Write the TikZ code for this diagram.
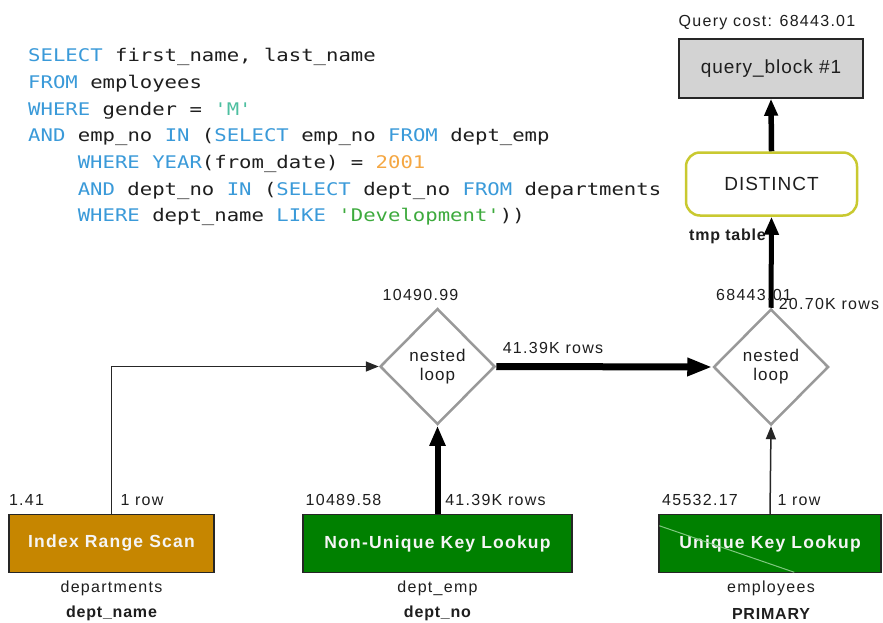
\documentclass[tikz,border=0pt]{standalone}
\usepackage{fontspec}
\setmainfont{Liberation Sans}
\newfontfamily\sqlfont[FakeStretch=1.185]{DejaVu Sans Mono}
\newfontfamily\lblfont[LetterSpace=8]{Liberation Sans}
\newfontfamily\loopfont[LetterSpace=6]{Liberation Sans}
\newfontfamily\boxfont[LetterSpace=7]{Liberation Sans}
\newfontfamily\keyfont[LetterSpace=5]{Liberation Sans}
\newfontfamily\bigfont[LetterSpace=5]{Liberation Sans}
\usetikzlibrary{arrows.meta,shapes.geometric,calc}

\definecolor{ink}{HTML}{1E1E1E}
\definecolor{kwblue}{HTML}{3A9AD9}
\definecolor{strteal}{HTML}{4DBFA0}
\definecolor{strgreen}{HTML}{3DAA3D}
\definecolor{numorange}{HTML}{F5A742}
\definecolor{scanfill}{HTML}{C68600}
\definecolor{lookupfill}{HTML}{008000}
\definecolor{blockfill}{HTML}{D3D3D3}
\definecolor{tmpborder}{HTML}{C9C930}
\definecolor{loopgray}{HTML}{999999}
\definecolor{streak}{HTML}{80C880}

\newcommand\sqlkw[1]{\textcolor{kwblue}{#1}}

\tikzset{
  sql/.style={font=\sqlfont\fontsize{17.4}{20}\selectfont, text=ink, inner sep=0pt, anchor=base west},
  lbl/.style={font=\lblfont\fontsize{16}{18}\selectfont, text=ink, inner sep=0pt},
  boldlbl/.style={font=\keyfont\bfseries\fontsize{16}{18}\selectfont, text=ink, inner sep=0pt},
  opbox/.style={draw=black!85, line width=1.5pt, minimum height=58pt, inner sep=0pt,
                text=white!96!black, font=\boxfont\bfseries\fontsize{17.5}{20}\selectfont},
  nlbox/.style={diamond, draw=loopgray, line width=2.5pt, fill=white, minimum width=115pt,
                minimum height=116pt, inner sep=0pt, align=center, text=ink,
                font=\loopfont\fontsize{17}{19}\selectfont},
  flowthin/.style={draw=black!85, line width=1.5pt, -{Triangle[length=13pt,width=10pt]}},
  flowthick/.style={draw=black, line width=6pt, -{Triangle[length=20pt,width=15pt]}},
  flowheavy/.style={draw=black, line width=7pt, -{Triangle[length=25pt,width=17pt]}},
}

\begin{document}
\begin{tikzpicture}[x=1pt,y=-1pt]
  \useasboundingbox (0,0) rectangle (883,623);
  \fill[white] (0,0) rectangle (883,623);

  % SQL statement
  \node[sql] (sql1) at (28,62)    {\sqlkw{SELECT} first\_name, last\_name};
  \node[sql] (sql2) at (28,88.6)  {\sqlkw{FROM} employees};
  \node[sql] (sql3) at (28,115.2) {\sqlkw{WHERE} gender = \textcolor{strteal}{'M'}};
  \node[sql] (sql4) at (28,141.8) {\sqlkw{AND} emp\_no \sqlkw{IN} (\sqlkw{SELECT} emp\_no \sqlkw{FROM} dept\_emp};
  \node[sql] (sql5) at (77.6,168.4) {\sqlkw{WHERE} \sqlkw{YEAR}(from\_date) = \textcolor{numorange}{2001}};
  \node[sql] (sql6) at (77.6,195)   {\sqlkw{AND} dept\_no \sqlkw{IN} (\sqlkw{SELECT} dept\_no \sqlkw{FROM} departments};
  \node[sql] (sql7) at (77.6,221.6) {\sqlkw{WHERE} dept\_name \sqlkw{LIKE} \textcolor{strgreen}{'Development'}))};

  % query block and temporary table
  \node[lbl] (cost) at (767,23) {Query cost: 68443.01};
  \node[draw=black!85, line width=1.5pt, fill=blockfill, minimum width=184pt, minimum height=59pt,
        inner sep=0pt, text=ink, font=\bigfont\fontsize{19}{22}\selectfont] (qb) at (771,68.5) {query\_block \#1};
  \node[draw=tmpborder, line width=2.5pt, rounded corners=14pt, fill=white, minimum width=171pt,
        minimum height=63pt, inner sep=0pt, text=ink, font=\bigfont\fontsize{19}{22}\selectfont]
        (distinct) at (771.5,184) {DISTINCT};
  \node[boldlbl] (tmp) at (727.5,236) {tmp table};

  % nested loops
  \node[nlbox] (nl1) at (437.5,366.5) {nested\\loop};
  \node[nlbox] (nl2) at (771,367) {nested\\loop};

  % table accesses
  \node[opbox, fill=scanfill, minimum width=205pt] (irs) at (111.5,543.5) {Index Range Scan};
  \node[opbox, fill=lookupfill, minimum width=269pt] (nuk) at (437.5,543.5) {Non-Unique Key Lookup};
  \node[opbox, fill=lookupfill, minimum width=222pt] (uk) at (770,543.5) {Unique Key Lookup};
  \draw[streak, line width=1pt] ($(uk.north west)+(1,12)$) -- ($(uk.south west)+(136,-1)$);

  % connectors
  \draw[flowthin] (irs.north) |- (nl1.west);
  \draw[flowthick] (nuk.north) -- (nl1.south);
  \draw[flowthin] (uk.north) -- (nl2.south);
  \draw[flowheavy] (nl1.east) -- (nl2.west);
  \draw[flowthick, line width=5pt, -{Triangle[length=18pt,width=14pt]}] (nl2.north) -- (distinct.south);
  \draw[flowthick, line width=5.5pt, -{Triangle[length=17pt,width=13pt]}] (distinct.north) -- (qb.south);

  % costs and row counts
  \node[lbl] (c1) at (420.5,295) {10490.99};
  \node[lbl] (r1) at (553,348) {41.39K rows};
  \node[lbl] (c2) at (754,295) {68443.01};
  \node[lbl] (r2) at (829,304) {20.70K rows};
  \node[lbl] (c3) at (26.5,500) {1.41};
  \node[lbl] (r3) at (142,500) {1 row};
  \node[lbl] (c4) at (343.5,500) {10489.58};
  \node[lbl] (r4) at (495.5,500) {41.39K rows};
  \node[lbl] (c5) at (700,500) {45532.17};
  \node[lbl] (r5) at (799,500) {1 row};

  % table and key names
  \node[lbl] (t1) at (111.5,588) {departments};
  \node[boldlbl] (k1) at (111.5,613.5) {dept\_name};
  \node[lbl] (t2) at (437.5,588) {dept\_emp};
  \node[boldlbl] (k2) at (437.5,613.5) {dept\_no};
  \node[lbl] (t3) at (771,588) {employees};
  \node[boldlbl] (k3) at (771,613.5) {PRIMARY};
\end{tikzpicture}
\end{document}
